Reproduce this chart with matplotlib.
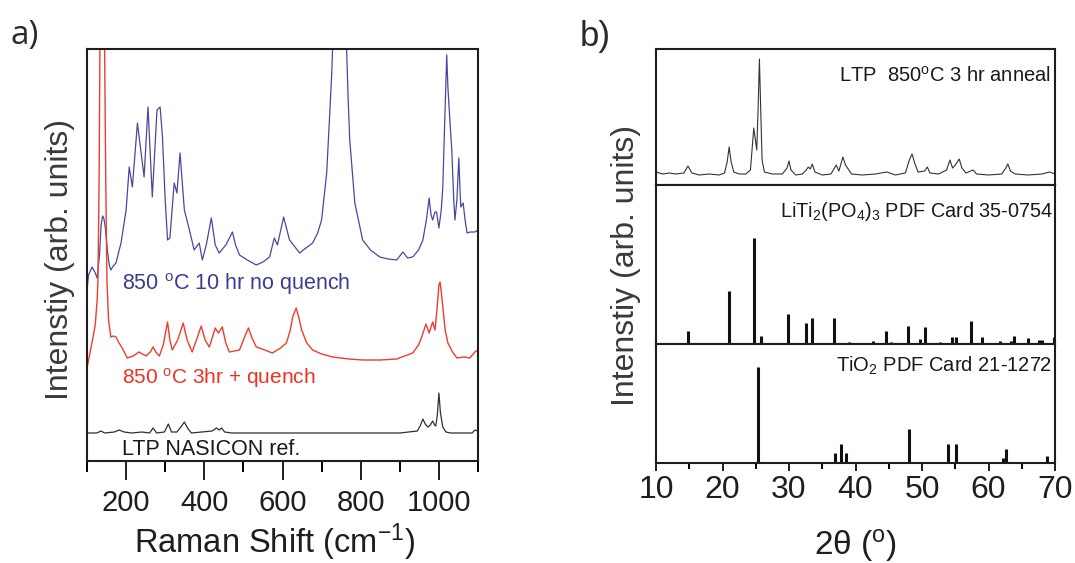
import matplotlib
matplotlib.use('Agg')
import matplotlib.pyplot as plt
from matplotlib.ticker import MultipleLocator

plt.rcParams['font.family'] = ['Liberation Sans', 'DejaVu Sans']
plt.rcParams['mathtext.fontset'] = 'custom'
plt.rcParams['mathtext.rm'] = 'Liberation Sans'
plt.rcParams['mathtext.it'] = 'Liberation Sans:italic'
plt.rcParams['mathtext.bf'] = 'Liberation Sans:bold'
plt.rcParams['mathtext.default'] = 'regular'

# ---------------- Panel a: Raman spectra ----------------
blue_x = [100, 104, 113, 120, 126, 132, 136, 140, 143, 147, 152, 157, 161, 167, 174, 187, 200, 208, 216, 229,
          246, 256, 267, 279, 287, 293, 300, 306, 312, 323, 330, 338, 349, 362, 374, 387, 395, 405, 418, 428,
          438, 455, 472, 480, 490, 510, 533, 550, 567, 579, 587, 603, 610, 618, 644, 660, 677, 690, 700, 713,
          720, 726, 732, 740, 748, 756, 764, 768, 772, 785, 805, 825, 849, 870, 892, 908, 920, 933, 948, 959,
          968, 975, 980, 984, 990, 994, 1000, 1006, 1010, 1015, 1020, 1023, 1028, 1033, 1038, 1041, 1046, 1051,
          1054, 1056, 1062, 1067, 1072, 1080, 1092, 1100]
blue_y = [171, 186, 194, 189, 183, 206, 236, 245, 243, 233, 211, 196, 191, 195, 198, 218, 251, 294, 274, 338,
          284, 354, 264, 351, 354, 324, 261, 221, 223, 278, 268, 308, 251, 231, 211, 218, 201, 216, 243, 216,
          208, 216, 229, 216, 206, 201, 196, 199, 204, 223, 216, 244, 233, 221, 208, 213, 218, 228, 241, 288,
          341, 388, 461, 711, 761, 661, 411, 361, 321, 258, 221, 211, 204, 202, 201, 209, 203, 204, 211, 221,
          241, 263, 246, 241, 249, 249, 233, 251, 274, 341, 406, 374, 341, 311, 261, 241, 261, 303,
          271, 254, 258, 241, 228, 229, 229, 231]

red_x = [100, 108, 115, 121, 126, 128, 131, 133, 136, 139, 142, 145, 148, 151, 155, 161, 168, 174, 182, 190,
         203, 218, 233, 251, 262, 269, 276, 285, 295, 306, 312, 318, 332, 346, 356, 369, 380, 392, 402, 413,
         428, 436, 446, 455, 464, 490, 505, 513, 522, 533, 555, 574, 595, 610, 620, 626, 635, 642, 649, 662,
         677, 700, 728, 770, 805, 850, 892, 933, 948, 956, 967, 975, 984, 990, 995, 1000, 1003, 1007, 1010, 1016,
         1023, 1035, 1046, 1065, 1079, 1092, 1100]
red_y = [93, 109, 123, 136, 161, 181, 281, 412, 661, 861, 661, 412, 281, 181, 141, 124, 125, 124, 118, 113,
         103, 105, 109, 105, 109, 114, 109, 105, 116, 139, 121, 111, 121, 138, 121, 109, 121, 135, 121, 114,
         133, 128, 134, 118, 109, 111, 126, 133, 123, 114, 111, 108, 113, 118, 131, 144, 153, 143, 131, 118,
         111, 107, 104, 102, 101, 101, 102, 108, 116, 124, 137, 128, 139, 131, 151, 176, 179, 166, 154, 131,
         118, 109, 103, 104, 103, 109, 111]

ref_x = [100, 125, 136, 145, 170, 182, 195, 215, 240, 260, 269, 278, 298, 308, 316, 330, 342, 349, 357, 367,
         420, 431, 438, 444, 452, 470, 900, 945, 952, 959, 965, 972, 978, 984, 989, 992, 996, 1000, 1004, 1010,
         1018, 1030, 1085, 1092, 1100]
ref_y = [28, 28, 30, 28, 29, 31, 29, 28, 29, 28, 33, 28, 29, 37, 29, 29, 35, 39, 33, 28,
         30, 33, 31, 33, 29, 28, 28, 30, 35, 42, 37, 34, 36, 40, 36, 35, 46, 68, 48, 34,
         29, 28, 28, 31, 30]

# ---------------- Panel b: XRD ----------------
xrd_x = [10.0, 11, 12, 13, 14.2, 14.8, 15.4, 16.5, 18, 19.5, 20.3, 20.7, 21.0, 21.3, 21.7, 22.5, 23.5, 24.2, 24.5,
         24.7, 24.95, 25.15, 25.35, 25.55, 25.75, 25.95, 26.3, 27.5, 29.0, 29.7, 30.0, 30.3, 31, 32.0, 32.6, 32.9,
         33.2, 33.5, 33.9, 35, 36.3, 37.1, 37.5, 38.1, 38.5, 38.8, 39.4, 41, 43, 44.7, 46, 47.5, 48.1, 48.5, 48.9,
         49.4, 50.4, 50.8, 51.2, 52.5, 53.7, 54.2, 54.6, 54.9, 55.6, 56.0, 56.6, 57.7, 58.2, 60, 62, 62.6, 62.9,
         63.3, 64, 66, 68, 69.2, 70]
xrd_y = [13, 11, 12, 11, 12, 19, 12, 10, 11, 10, 12, 23, 38, 23, 13, 11, 11, 15, 40,
         57, 45, 35, 75, 126, 75, 25, 13, 11, 11, 17, 24, 15, 10, 11, 15, 18,
         16, 21, 13, 10, 11, 20, 14, 28, 20, 17, 11, 10, 11, 13, 10, 12, 25, 31, 22,
         13, 14, 18, 12, 11, 15, 25, 17, 19, 26, 17, 12, 15, 11, 10, 11, 17, 21,
         14, 11, 10, 11, 13, 11]

ltp_pos = [14.86, 21.03, 24.74, 25.8, 29.85, 32.5, 33.4, 36.7, 39.0, 42.7, 44.6, 45.4, 47.9, 49.7, 50.45,
           52.7, 54.5, 55.1, 57.4, 59.06, 61.7, 63.4, 63.9, 66.0, 67.6, 68.1, 69.9]
ltp_int = [12.5, 50, 100, 8, 28, 20, 25, 24.5, 2, 3, 12, 2, 17, 5, 16,
           2, 6.5, 7, 22, 7, 3, 2.5, 8, 5.5, 3.5, 4, 6.5]

tio2_pos = [25.28, 36.95, 37.80, 38.57, 48.05, 53.89, 55.06, 62.12, 62.69, 68.76]
tio2_int = [100, 10, 20, 10, 35, 20, 20, 5, 15, 7]

W, H = 1075, 563
fig = plt.figure(figsize=(W / 100, H / 100), dpi=100)

def fx(px):
    return px / W

def fy(py):
    return 1 - py / H

spine_c = '#1e1e1e'

# ---- panel a axes
axa = fig.add_axes([fx(87), fy(461), fx(478) - fx(87), fy(49) - fy(461)])
axa.plot(blue_x, blue_y, color='#4848a0', lw=0.9)
axa.plot(red_x, red_y, color='#f03c2c', lw=1.0)
axa.plot(ref_x, ref_y, color='#303030', lw=0.9)
axa.set_xlim(100, 1100)
axa.set_ylim(0, 412)
axa.set_yticks([])
axa.xaxis.set_major_locator(MultipleLocator(200))
axa.xaxis.set_minor_locator(MultipleLocator(100))
axa.tick_params(axis='x', which='major', direction='out', length=14, width=1.4, pad=6,
                labelsize=21, colors=spine_c)
axa.tick_params(axis='x', which='minor', direction='out', length=8, width=1.4)
axa.set_xticks([200, 400, 600, 800, 1000])
for s in axa.spines.values():
    s.set_linewidth(1.5)
    s.set_color(spine_c)

axa.text(fx(122), fy(290), '850 $^{o}$C 10 hr no quench', transform=fig.transFigure,
         fontsize=15.5, color='#3c3c94', va='baseline', ha='left')
axa.text(fx(122), fy(384), '850 $^{o}$C 3hr + quench', transform=fig.transFigure,
         fontsize=15, color='#ee3124', va='baseline', ha='left')
axa.text(fx(122), fy(455), 'LTP NASICON ref.', transform=fig.transFigure,
         fontsize=15.5, color='#1a1a1a', va='baseline', ha='left')

fig.text(fx(275), fy(553), 'Raman Shift (cm$^{-1}$)', fontsize=23.5, ha='center', va='baseline',
         color=spine_c)
fig.text(fx(60), fy(259), 'Intenstiy (arb. units)', fontsize=23, rotation=90, ha='center', va='center',
         color='#3a3a3a')
fig.text(fx(10), fy(44), 'a)', fontsize=24, family=['Open Sans', 'DejaVu Sans'], color='#2a2a2a',
         ha='left', va='baseline')

# ---- panel b axes
axb1 = fig.add_axes([fx(656), fy(185), fx(1055) - fx(656), fy(49) - fy(185)])
axb2 = fig.add_axes([fx(656), fy(344), fx(1055) - fx(656), fy(185) - fy(344)], sharex=axb1)
axb3 = fig.add_axes([fx(656), fy(463), fx(1055) - fx(656), fy(344) - fy(463)], sharex=axb1)

axb1.plot(xrd_x, xrd_y, color='#333333', lw=0.8)
axb1.set_ylim(0, 136)
axb2.vlines(ltp_pos, 0, ltp_int, color='#111111', lw=2.2)
axb2.set_ylim(0, 150)
axb3.vlines(tio2_pos, 0, tio2_int, color='#111111', lw=2.2)
axb3.set_ylim(0, 124)

for ax in (axb1, axb2, axb3):
    ax.set_yticks([])
    for s in ax.spines.values():
        s.set_linewidth(1.5)
        s.set_color(spine_c)
axb1.set_xlim(10, 70)
for ax in (axb1, axb2):
    ax.tick_params(axis='x', which='both', bottom=False, labelbottom=False)
axb3.xaxis.set_major_locator(MultipleLocator(10))
axb3.xaxis.set_minor_locator(MultipleLocator(5))
axb3.tick_params(axis='x', which='major', direction='out', length=6, width=1.4, pad=3,
                 labelsize=23, colors=spine_c)
axb3.tick_params(axis='x', which='minor', direction='out', length=4, width=1.4)

axb1.text(fx(1051), fy(82), 'LTP  850$^{o}$C 3 hr anneal', transform=fig.transFigure,
          fontsize=14.5, ha='right', va='baseline', color='#1a1a1a')
axb2.text(fx(1053), fy(217), 'LiTi$_2$(PO$_4$)$_3$ PDF Card 35-0754', transform=fig.transFigure,
          fontsize=14.3, ha='right', va='baseline', color='#1a1a1a')
axb3.text(fx(1052), fy(372), 'TiO$_2$ PDF Card 21-1272', transform=fig.transFigure,
          fontsize=14.5, ha='right', va='baseline', color='#1a1a1a')

fig.text(fx(855), fy(555), '2θ ($^{o}$)', fontsize=24, ha='center', va='baseline', color=spine_c)
fig.text(fx(626), fy(266), 'Intenstiy (arb. units)', fontsize=23, rotation=90, ha='center', va='center',
         color='#3a3a3a')
fig.text(fx(580), fy(46), 'b)', fontsize=25, color='#2a2a2a', ha='left', va='baseline')

fig.savefig('out.png', dpi=100)
